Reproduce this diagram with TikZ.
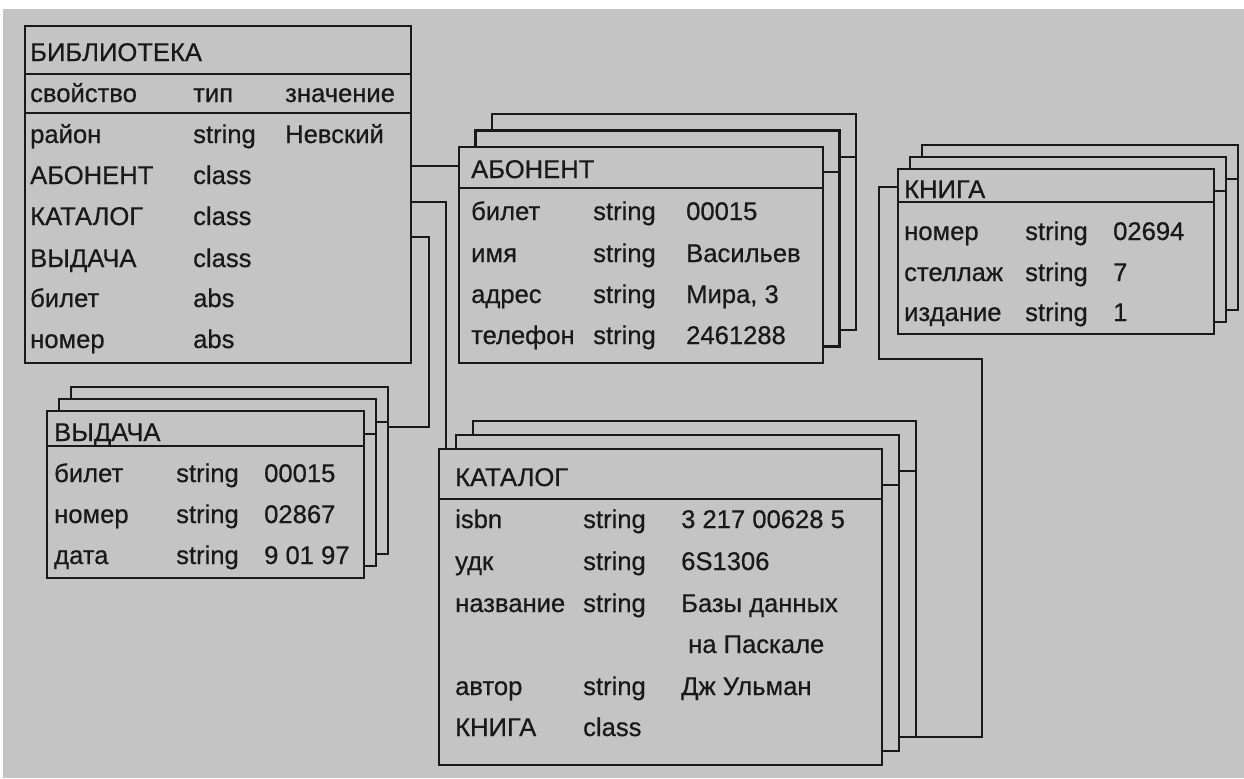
\documentclass[tikz,border=0pt]{standalone}
\usepackage{fontspec}
\setmainfont{Liberation Sans}[FakeBold=0.6]
\definecolor{paper}{gray}{0.77}
\definecolor{ink}{gray}{0.1}
\begin{document}
\begin{tikzpicture}[x=0.5pt, y=-0.5pt, line width=1.2pt, font=\fontsize{12.8}{15}\selectfont,
  card/.style={draw=ink, fill=paper},
  rule/.style={draw=ink},
  link/.style={draw=ink},
  txt/.style={anchor=base west, inner sep=0pt, text=ink}]
  \useasboundingbox (0,0) rectangle (1244,778);
  \fill[white] (0,0) rectangle (1244,778);
  \fill[paper] (3,9) rectangle (1244,778);
  % углы рамок (координаты в пикселях, y вниз)
  \coordinate (bib-nw) at (25,26);   \coordinate (bib-se) at (411,363);
  \coordinate (abon-nw) at (459,147); \coordinate (abon-se) at (823,363);
  \coordinate (kat-nw) at (439,449);  \coordinate (kat-se) at (882,765);
  \coordinate (kn-nw) at (898,169);   \coordinate (kn-se) at (1214,334);
  \coordinate (vyd-nw) at (47,411);   \coordinate (vyd-se) at (364,578);
  % БИБЛИОТЕКА
  \draw[card] (bib-nw) rectangle (bib-se);
  \draw[rule] (25,74) -- (411,74);
  \draw[rule] (25,113) -- (411,113);
  % АБОНЕНТ: две копии позади
  \draw[card] (492,114) rectangle (856,330); \draw[rule] (492,157) -- (856,157);
  \draw[card] (475.5,130.5) rectangle (839.5,346.5); \draw[rule] (475.5,172) -- (839.5,172);
  \draw[card] (abon-nw) rectangle (abon-se); \draw[rule] (459,188) -- (823,188);
  % КАТАЛОГ
  \draw[card] (473,421) rectangle (916,737); \draw[rule] (473,471) -- (916,471);
  \draw[card] (456,435) rectangle (899,751); \draw[rule] (456,485) -- (899,485);
  \draw[card] (kat-nw) rectangle (kat-se); \draw[rule] (439,499) -- (882,499);
  % КНИГА
  \draw[card] (922,145) rectangle (1238,310); \draw[rule] (922,179) -- (1238,179);
  \draw[card] (910,157) rectangle (1226,322); \draw[rule] (910,191) -- (1226,191);
  \draw[card] (kn-nw) rectangle (kn-se); \draw[rule] (898,202) -- (1214,202);
  % ВЫДАЧА
  \draw[card] (71,387) rectangle (388,554); \draw[rule] (71,422) -- (388,422);
  \draw[card] (59,399) rectangle (376,566); \draw[rule] (59,434) -- (376,434);
  \draw[card] (vyd-nw) rectangle (vyd-se); \draw[rule] (47,446) -- (364,446);
  % концы связей
  \coordinate (bib-a) at (411,166);
  \coordinate (bib-k) at (411,202);
  \coordinate (bib-v) at (411,237);
  \coordinate (vyd-in) at (388,427);
  \coordinate (kn-out) at (898,187);
  \coordinate (kat-in) at (916,737);
  \draw[link] (bib-a) -- (bib-a -| abon-nw);
  \draw[link] (bib-k) -| (446,449);
  \draw[link] (bib-v) -- (429,237) |- (vyd-in);
  \draw[link] (kn-out) -- (879,187) |- (982,359) |- (kat-in);
  % тексты
  \node[txt] (bib-t) at (29,61) {БИБЛИОТЕКА};
  \node[txt] (bib-h1) at (29,102) {свойство}; \node[txt] (bib-h2) at (192,102) {тип}; \node[txt] (bib-h3) at (284,102) {значение};
  \node[txt] (bib-11) at (29,143) {район}; \node[txt] (bib-12) at (192,143) {string}; \node[txt] (bib-13) at (284,143) {Невский};
  \node[txt] (bib-21) at (29,184) {АБОНЕНТ}; \node[txt] (bib-22) at (192,184) {class};
  \node[txt] (bib-31) at (29,225) {КАТАЛОГ}; \node[txt] (bib-32) at (192,225) {class};
  \node[txt] (bib-41) at (29,267) {ВЫДАЧА}; \node[txt] (bib-42) at (192,267) {class};
  \node[txt] (bib-51) at (29,307) {билет}; \node[txt] (bib-52) at (192,307) {abs};
  \node[txt] (bib-61) at (29,348) {номер}; \node[txt] (bib-62) at (192,348) {abs};
  \node[txt] (abon-t) at (470,178) {АБОНЕНТ};
  \node[txt] (abon-11) at (470,220) {билет}; \node[txt] (abon-12) at (592,220) {string}; \node[txt] (abon-13) at (685,220) {00015};
  \node[txt] (abon-21) at (470,262) {имя}; \node[txt] (abon-22) at (592,262) {string}; \node[txt] (abon-23) at (685,262) {Васильев};
  \node[txt] (abon-31) at (470,303) {адрес}; \node[txt] (abon-32) at (592,303) {string}; \node[txt] (abon-33) at (685,303) {Мира, 3};
  \node[txt] (abon-41) at (470,344) {телефон}; \node[txt] (abon-42) at (592,344) {string}; \node[txt] (abon-43) at (685,344) {2461288};
  \node[txt] (kn-t) at (903,198) {КНИГА};
  \node[txt] (kn-11) at (903,240) {номер}; \node[txt] (kn-12) at (1024,240) {string}; \node[txt] (kn-13) at (1112,240) {02694};
  \node[txt] (kn-21) at (903,281) {стеллаж}; \node[txt] (kn-22) at (1024,281) {string}; \node[txt] (kn-23) at (1112,281) {7};
  \node[txt] (kn-31) at (903,321) {издание}; \node[txt] (kn-32) at (1024,321) {string}; \node[txt] (kn-33) at (1112,321) {1};
  \node[txt] (vyd-t) at (53,441) {ВЫДАЧА};
  \node[txt] (vyd-11) at (53,482) {билет}; \node[txt] (vyd-12) at (175,482) {string}; \node[txt] (vyd-13) at (263,482) {00015};
  \node[txt] (vyd-21) at (53,523) {номер}; \node[txt] (vyd-22) at (175,523) {string}; \node[txt] (vyd-23) at (263,523) {02867};
  \node[txt] (vyd-31) at (53,564) {дата}; \node[txt] (vyd-32) at (175,564) {string}; \node[txt] (vyd-33) at (263,564) {9 01 97};
  \node[txt] (kat-t) at (454,486) {КАТАЛОГ};
  \node[txt] (kat-11) at (454,528) {isbn}; \node[txt] (kat-12) at (582,528) {string}; \node[txt] (kat-13) at (680,528) {3 217 00628 5};
  \node[txt] (kat-21) at (454,570) {удк}; \node[txt] (kat-22) at (582,570) {string}; \node[txt] (kat-23) at (680,570) {6S1306};
  \node[txt] (kat-31) at (454,612) {название}; \node[txt] (kat-32) at (582,612) {string}; \node[txt] (kat-33) at (680,612) {Базы данных};
  \node[txt] (kat-34) at (687,653) {на Паскале};
  \node[txt] (kat-41) at (454,695) {автор}; \node[txt] (kat-42) at (582,695) {string}; \node[txt] (kat-43) at (680,695) {Дж Ульман};
  \node[txt] (kat-51) at (454,736) {КНИГА}; \node[txt] (kat-52) at (582,736) {class};
\end{tikzpicture}
\end{document}
